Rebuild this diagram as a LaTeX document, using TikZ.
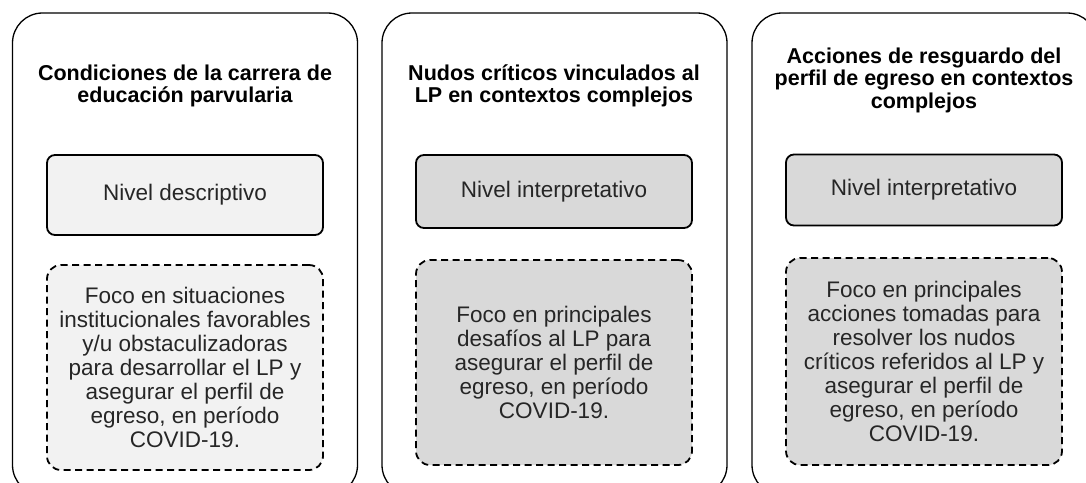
\documentclass[tikz,border=0pt]{standalone}
\usepackage{fontspec}
\setmainfont{Liberation Sans}
\usepackage{tikz}

\definecolor{lightfill}{HTML}{F2F2F2}
\definecolor{darkfill}{HTML}{D9D9D9}
\definecolor{textgray}{HTML}{262626}

\begin{document}
\begin{tikzpicture}[x=1pt, y=-1pt,
    column/.style={draw, line width=1.3pt, rounded corners=30pt, minimum width=345pt, minimum height=482pt},
    title/.style={align=center, font=\fontsize{21.5}{22.5}\selectfont\bfseries},
    level/.style={draw, line width=1.8pt, rounded corners=8pt, minimum width=276pt, text=textgray, font=\fontsize{22.5}{24}\selectfont},
    focus/.style={draw, dashed, dash pattern=on 7pt off 4.5pt, line width=1.8pt, rounded corners=14pt, minimum width=276pt, align=center, text=textgray, font=\fontsize{22.5}{23.9}\selectfont}]
                    \useasboundingbox (0,0) rectangle (1086,482);
                    \fill[white] (0,0) rectangle (1086,482);
                    \clip (0,0) rectangle (1086,482);
                    % Columns
                    \node[column] (col1) at (185,254) {};
                    \node[column] (col2) at (554.5,254) {};
                    \node[column] (col3) at (924.5,254) {};
                    % Titles
                    \node[title] (title1) at (185,86) {Condiciones de la carrera de\\educación parvularia};
                    \node[title] (title2) at (554,86) {Nudos críticos vinculados al\\LP en contextos complejos};
                    \node[title] (title3) at (924,80) {Acciones de resguardo del\\perfil de egreso en contextos\\complejos};
                    % Levels
                    \node[level, fill=lightfill, minimum height=80pt] (level1) at (185,195) {Nivel descriptivo};
                    \node[level, fill=darkfill, minimum height=73pt] (level2) at (554,191.5) {Nivel interpretativo};
                    \node[level, fill=darkfill, minimum height=71pt] (level3) at (924,190) {Nivel interpretativo};
                    % Focus
                    \node[focus, fill=lightfill, minimum height=205pt] (focus1) at (185,367.5) {Foco en situaciones\\institucionales favorables\\y/u obstaculizadoras\\para desarrollar el LP y\\asegurar el perfil de\\egreso, en período\\COVID-19.};
                    \node[focus, fill=darkfill, minimum height=205pt] (focus2) at (554,362.5) {Foco en principales\\desafíos al LP para\\asegurar el perfil de\\egreso, en período\\COVID-19.};
                    \node[focus, fill=darkfill, minimum height=207pt] (focus3) at (924,361.5) {Foco en principales\\acciones tomadas para\\resolver los nudos\\críticos referidos al LP y\\asegurar el perfil de\\egreso, en período\\COVID-19.};
                \end{tikzpicture}
\end{document}
